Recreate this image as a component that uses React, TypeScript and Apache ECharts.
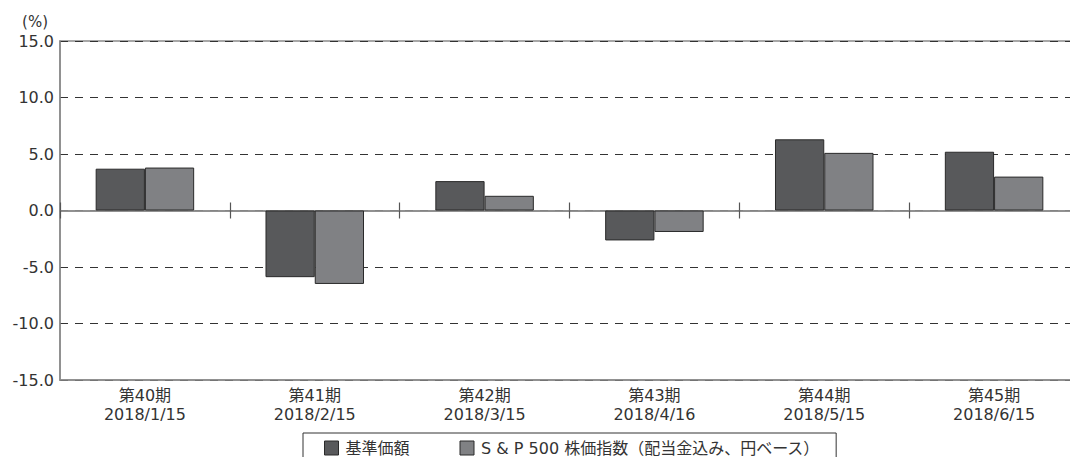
import React, { useEffect, useRef } from "react";
import * as echarts from "echarts";

const categories = ["第40期\n2018/1/15", "第41期\n2018/2/15", "第42期\n2018/3/15", "第43期\n2018/4/16", "第44期\n2018/5/15", "第45期\n2018/6/15"];
const fundValues = [3.7, -5.9, 2.6, -2.65, 6.3, 5.2];
const indexValues = [3.8, -6.5, 1.3, -1.9, 5.1, 3.0];
const seriesNames = ["基準価額", "S & P 500 株価指数（配当金込み、円ベース）"];
const yTicks = { min: -15, max: 15, interval: 5 };

const FONT = "'DejaVu Sans', 'Noto Sans CJK JP', sans-serif";

export default function App() {
  const ref = useRef<HTMLDivElement>(null);
  useEffect(() => {
    document.body.style.margin = "0";
    const chart = echarts.init(ref.current!, null, { renderer: "svg" });
    const zeroAxisBase = {
      type: "category",
      data: categories,
      boundaryGap: true,
      axisLabel: { show: false },
      splitLine: { show: false },
    };
    const gray = "#8a8a8a";
    chart.setOption({
      animation: false,
      textStyle: { fontFamily: FONT },
      grid: {
        left: 60,
        top: 41,
        width: 1019,
        height: 339,
        outerBoundsMode: "none",
        containLabel: false,
        show: true,
        borderColor: gray,
        borderWidth: 1.5,
        backgroundColor: "transparent",
      },
      legend: {
        top: 433,
        left: 303,
        data: seriesNames,
        icon: "rect",
        itemWidth: 14,
        itemHeight: 14,
        itemGap: 50,
        padding: [7, 16, 20, 21],
        borderColor: "#333",
        borderWidth: 1,
        itemStyle: { borderColor: "#2a2a2a", borderWidth: 1 },
        textStyle: { fontSize: 16, color: "#333", fontFamily: FONT, padding: [0, 0, 0, 2] },
      },
      xAxis: [
        {
          type: "category",
          data: categories,
          position: "bottom",
          axisLine: { show: true, onZero: false, lineStyle: { color: gray, width: 1.5 } },
          axisTick: { show: false },
          axisLabel: { fontSize: 16, color: "#333", lineHeight: 19, margin: 6, fontFamily: FONT },
          splitLine: { show: false },
        },
        {
          ...zeroAxisBase,
          position: "top",
          axisLine: { show: true, onZero: true, onZeroAxisIndex: 0, lineStyle: { color: gray, width: 1.5 } },
          axisTick: { show: true, inside: false, length: 8, lineStyle: { color: "#555", width: 1.2 } },
        },
        {
          ...zeroAxisBase,
          position: "bottom",
          axisLine: { show: true, onZero: true, onZeroAxisIndex: 1, lineStyle: { color: gray, width: 1.5 } },
          axisTick: { show: true, inside: false, length: 8, lineStyle: { color: "#555", width: 1.2 } },
        },
      ],
      yAxis: [
        {
          type: "value",
          min: yTicks.min,
          max: yTicks.max,
          interval: yTicks.interval,
          name: "(%)",
          nameLocation: "end",
          nameGap: 12,
          nameTextStyle: { fontSize: 15, color: "#333", align: "right", padding: [0, 12, 0, 0], fontFamily: FONT },
          axisLine: { show: true, lineStyle: { color: gray, width: 1.5 } },
          axisTick: { show: false },
          axisLabel: { fontSize: 16, color: "#333", margin: 6, formatter: (v: number) => v.toFixed(1), fontFamily: FONT },
          splitLine: { show: true, lineStyle: { color: "#333", width: 1, type: [8, 7] } },
        },
        {
          type: "value",
          min: yTicks.min,
          max: yTicks.max,
          interval: yTicks.interval,
          position: "right",
          axisLine: { show: false },
          axisTick: { show: false },
          axisLabel: { show: false },
          splitLine: { show: false },
        },
      ],
      series: [
        {
          name: seriesNames[0],
          type: "bar",
          xAxisIndex: 0,
          yAxisIndex: 0,
          data: fundValues,
          barGap: "0%",
          barCategoryGap: "42%",
          itemStyle: { color: "#58595b", borderColor: "#2a2a2a", borderWidth: 1 },
        },
        {
          name: seriesNames[1],
          type: "bar",
          xAxisIndex: 0,
          yAxisIndex: 0,
          data: indexValues,
          barGap: "0%",
          barCategoryGap: "42%",
          itemStyle: { color: "#808184", borderColor: "#2a2a2a", borderWidth: 1 },
        },
      ],
    });
    return () => chart.dispose();
  }, []);
  return <div ref={ref} style={{ width: 1070, height: 457 }} />;
}
